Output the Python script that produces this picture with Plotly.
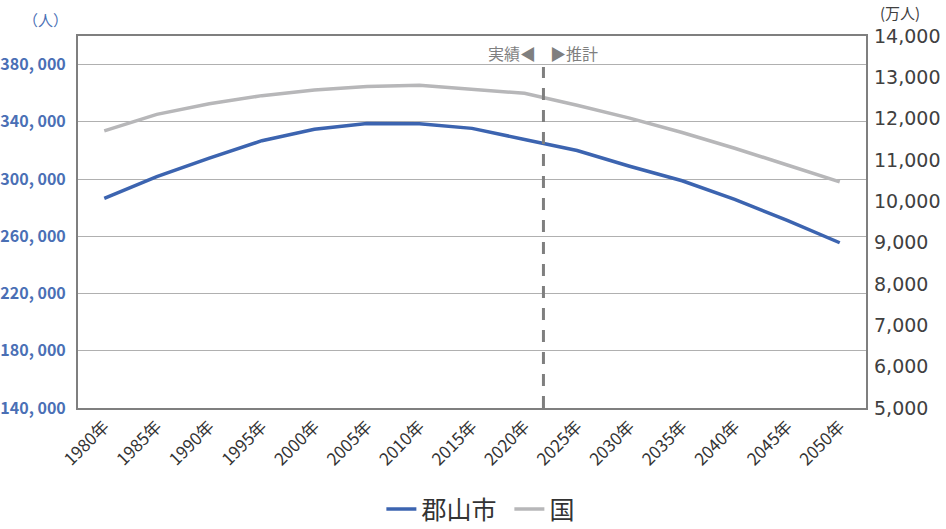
import plotly.graph_objects as go

# Population series: Koriyama City (persons) and Japan (10k persons)
years = ["1980年", "1985年", "1990年", "1995年", "2000年", "2005年", "2010年", "2015年",
         "2020年", "2025年", "2030年", "2035年", "2040年", "2045年", "2050年"]
koriyama = [286451, 301673, 314642, 326833, 334824, 338834, 338712, 335444,
            327692, 320000, 309000, 298800, 285800, 271200, 255500]
japan = [11706, 12105, 12361, 12557, 12693, 12777, 12806, 12709,
         12615, 12326, 12012, 11664, 11284, 10880, 10469]
left_ticks = [140000, 180000, 220000, 260000, 300000, 340000, 380000]
right_ticks = [5000, 6000, 7000, 8000, 9000, 10000, 11000, 12000, 13000, 14000]
split_pos = 8.36  # boundary between actual and projected values

xs = list(range(len(years)))
BLUE = "#3C64B0"
GRAY = "#B7B7B9"
FONT = "Noto Sans CJK JP"

fig = go.Figure()
fig.add_trace(go.Scatter(x=xs, y=koriyama, name="郡山市", mode="lines",
                         line=dict(color=BLUE, width=3.5), yaxis="y"))
fig.add_trace(go.Scatter(x=xs, y=japan, name="国", mode="lines",
                         line=dict(color=GRAY, width=3.5), yaxis="y2"))

fig.add_shape(type="line", xref="x", yref="paper", x0=split_pos, x1=split_pos,
              y0=0, y1=0.917, line=dict(color="#7F7F7F", width=3, dash="12px,10px"))

label_y = (408 - 53) / 372
fig.add_annotation(x=split_pos, y=label_y, xref="x", yref="paper", text="実績◀",
                   showarrow=False, xanchor="right", yanchor="middle", xshift=-5,
                   font=dict(family=FONT, size=16, color="#7F7F7F"))
fig.add_annotation(x=split_pos, y=label_y, xref="x", yref="paper", text="▶推計",
                   showarrow=False, xanchor="left", yanchor="middle", xshift=5,
                   font=dict(family=FONT, size=16, color="#7F7F7F"))

# Axis unit labels
fig.add_annotation(x=0, y=1, xref="paper", yref="paper", text="（人）",
                   showarrow=False, xanchor="right", yanchor="bottom",
                   xshift=-8, yshift=4,
                   font=dict(family=FONT, size=15, color="#4A6FB5"))
fig.add_annotation(x=1, y=1, xref="paper", yref="paper", text="(万人)",
                   showarrow=False, xanchor="left", yanchor="bottom",
                   xshift=12, yshift=11,
                   font=dict(family=FONT, size=15, color="#404040"))

fig.update_layout(
    width=946, height=529,
    margin=dict(l=78, r=80, t=36, b=121, autoexpand=False),
    paper_bgcolor="white", plot_bgcolor="white",
    showlegend=True,
    legend=dict(orientation="h", x=0.385, xanchor="left", y=-0.272, yanchor="middle",
                entrywidth=83,
                font=dict(family=FONT, size=25, color="#333333")),
    xaxis=dict(range=[-0.5, 14.5], tickvals=xs, ticktext=years, tickangle=-45,
               showgrid=False, showline=True, linecolor="#7F7F7F", linewidth=2,
               mirror=True, ticks="", zeroline=False, automargin=False,
               tickfont=dict(family=FONT, size=17, color="#333333")),
    yaxis=dict(range=[140000, 400000], tickvals=left_ticks,
               ticktext=[f"{v // 1000}, 000" for v in left_ticks],
               showgrid=True, gridcolor="#B0B0B0", gridwidth=1,
               showline=True, linecolor="#7F7F7F", linewidth=2, mirror=True,
               zeroline=False, ticks="", automargin=False, ticklabelstandoff=7,
               tickfont=dict(family="Liberation Sans Narrow, " + FONT, size=16,
                             color="#4A6FB5", weight="bold")),
    yaxis2=dict(range=[5000, 14000], tickvals=right_ticks,
                ticktext=[f"{v:,}" for v in right_ticks],
                overlaying="y", side="right", showgrid=False, zeroline=False,
                showline=False, ticks="", automargin=False, ticklabelstandoff=7,
                tickfont=dict(family="DejaVu Sans", size=19, color="#404040")),
)

fig.write_html("out.html")
